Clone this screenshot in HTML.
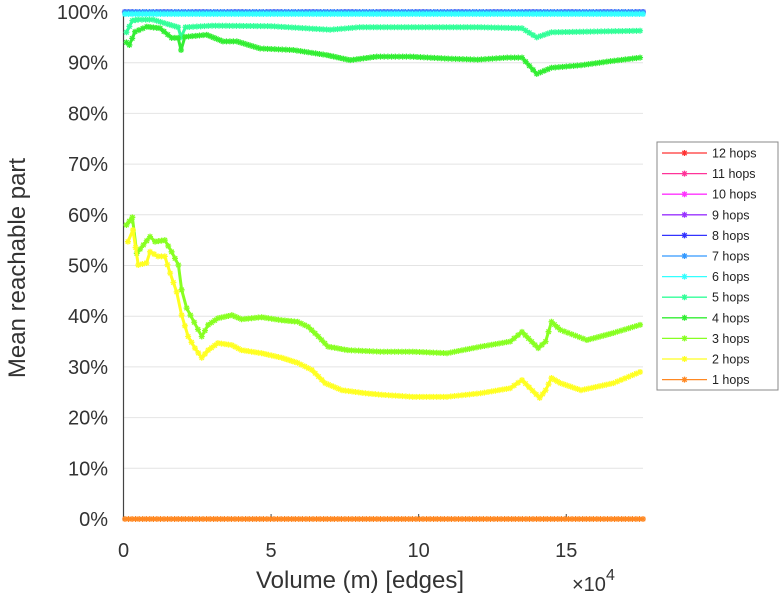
<!DOCTYPE html>
<html><head><meta charset="utf-8"><style>
body{margin:0;background:#fff;width:781px;height:600px;overflow:hidden;font-family:"Liberation Sans",sans-serif}
svg text{font-family:"Liberation Sans",sans-serif}
</style></head><body>
<svg id="chart" width="781" height="600" xmlns="http://www.w3.org/2000/svg"></svg>
<script>
const yTicks=[0,10,20,30,40,50,60,70,80,90,100];
const yTickLabels=["0%","10%","20%","30%","40%","50%","60%","70%","80%","90%","100%"];
const xTicks=[0,5,10,15];
const xTickLabels=["0","5","10","15"];
const seriesNames=["12 hops","11 hops","10 hops","9 hops","8 hops","7 hops","6 hops","5 hops","4 hops","3 hops","2 hops","1 hops"];
const seriesColors=["#ff3333","#ff3399","#ff33ff","#9933ff","#3333ff","#3399ff","#33ffff","#33ff99","#33ee33","#88ff22","#ffff22","#ff8822"];
const flatX=[0.05,17.6];
const hop12=[100,100],hop11=[100,100],hop10=[100,100],hop9=[100,100],hop8=[100,100],hop7=[100,100],hop6=[99.6,99.6];
const hop5X=[0.1,0.3,0.5,1,1.5,1.85,1.95,2.1,3,5,7,8,10,12,13.5,14.0,14.5,17.5];
const hop5=[96,98.3,98.5,98.5,97.6,97,95,97,97.3,97.2,96.5,97,97,97,96.8,95,96,96.3];
const hop4X=[0.1,0.2,0.39,0.79,1.24,1.63,1.85,1.95,2.08,2.82,3.37,3.84,4.63,5.75,6.89,7.68,8.58,9.71,11,12,13,13.5,14,14.5,15.5,16.5,17.5];
const hop4=[94,93.5,96.1,97.1,96.8,94.9,94.9,92.5,95.1,95.5,94.2,94.2,92.8,92.5,91.5,90.5,91.2,91.2,90.8,90.6,91,91,87.8,89,89.5,90.3,91];
const hop3X=[0.1,0.3,0.45,0.9,1.07,1.4,1.63,1.86,1.97,2.14,2.65,2.87,3.2,3.67,4.0,4.68,5.36,5.9,6.26,6.6,6.93,7.6,8.7,9.8,10.96,12.1,13.1,13.5,14.05,14.3,14.5,14.8,15.7,16.6,17.5];
const hop3=[58,59.5,52.4,55.7,54.7,55,52.7,50.1,45.2,41.6,36,38.3,39.6,40.2,39.4,39.8,39.2,38.9,37.9,36,34,33.3,33,33,32.7,34,35,36.9,33.7,35,38.9,37.3,35.3,36.7,38.3];
const hop2X=[0.15,0.32,0.5,0.78,0.9,1.17,1.4,1.58,1.8,1.97,2.19,2.42,2.65,2.87,3.2,3.67,4.0,4.68,5.36,5.9,6.38,6.83,7.4,8.2,8.75,9.8,10.96,12.1,13.1,13.5,14.1,14.3,14.5,14.8,15.5,16.6,17.5];
const hop2=[54.7,57,50.1,50.5,52.7,51.8,51.8,48.5,44.8,40.2,36,33.7,31.8,33.3,34.7,34.3,33.3,32.7,31.8,30.8,29.4,26.8,25.4,24.8,24.5,24.1,24.1,24.8,25.8,27.4,23.9,25.4,27.8,26.8,25.4,26.8,29];
const hop1=[0,0];
const seriesX=[flatX,flatX,flatX,flatX,flatX,flatX,flatX,hop5X,hop4X,hop3X,hop2X,flatX];
const seriesY=[hop12,hop11,hop10,hop9,hop8,hop7,hop6,hop5,hop4,hop3,hop2,hop1];

const NS="http://www.w3.org/2000/svg";
const svg=document.getElementById('chart');
const X0=123.5,X1=643,XMAX=17.6,Y0=519,Y1=12;
const sx=v=>X0+(X1-X0)*v/XMAX;
const sy=v=>Y0-(Y0-Y1)*v/100;
function mk(t,a,p){const e=document.createElementNS(NS,t);for(const k in a)e.setAttribute(k,a[k]);(p||svg).appendChild(e);return e;}

yTicks.forEach((t,i)=>{
  const g=mk('line',{x1:X0,x2:X1,y1:sy(t),y2:sy(t),stroke:'#e4e4e4','stroke-width':1});
  
  
  const tx=mk('text',{x:108,y:sy(t)+7,'text-anchor':'end','font-size':20,fill:'#333'});
  tx.textContent=yTickLabels[i];
  
  
});
xTicks.forEach((t,i)=>{
  const tk=mk('line',{x1:sx(t),x2:sx(t),y1:Y0,y2:Y0-5,stroke:'#444'});
  
  
  const tx=mk('text',{x:sx(t),y:557,'text-anchor':'middle','font-size':20,fill:'#333'});
  tx.textContent=xTickLabels[i];
  
  
});
const ax=mk('line',{x1:X0,x2:X0,y1:Y1,y2:Y0+2,stroke:'#444','stroke-width':1.2});



function star(g,x,y,c){
  const p=mk('path',{d:`M${x-3},${y}h6M${x},${y-3}v6M${x-2.2},${y-2.2}l4.4,4.4M${x-2.2},${y+2.2}l4.4,-4.4`,stroke:c,'stroke-width':1.3},g);
  
  
}
for(let s=0;s<seriesNames.length;s++){
  const g=mk('g',{});
  
  
  const xs=seriesX[s],ys=seriesY[s];
  const pts=xs.map((x,i)=>sx(x)+','+sy(ys[i])).join(' ');
  const pl=mk('polyline',{points:pts,fill:'none',stroke:seriesColors[s],'stroke-width':3,'stroke-linejoin':'round'},g);
  
  
  for(let i=0;i<xs.length-1;i++){
    const n=Math.max(1,Math.round((xs[i+1]-xs[i])/0.12));
    for(let k=0;k<n;k++){const f=k/n;star(g,sx(xs[i]+(xs[i+1]-xs[i])*f),sy(ys[i]+(ys[i+1]-ys[i])*f),seriesColors[s]);}
  }
  star(g,sx(xs[xs.length-1]),sy(ys[ys.length-1]),seriesColors[s]);
}

const lg=mk('g',{});


mk('rect',{x:657,y:142,width:121,height:248,fill:'#fff',stroke:'#888'},lg);
seriesNames.forEach((n,i)=>{
  const y=153+i*20.6;
  const e=mk('g',{},lg);
  
  
  mk('line',{x1:662,x2:707,y1:y,y2:y,stroke:seriesColors[i],'stroke-width':1.3},e);
  star(e,684.5,y,seriesColors[i]);
  const t=mk('text',{x:712,y:y+4.5,'font-size':12.5,fill:'#222'},e);
  t.textContent=n;
});

const xt=mk('text',{x:360,y:588,'text-anchor':'middle','font-size':24,fill:'#333'});
xt.textContent='Volume (m) [edges]';


const ex=mk('text',{x:572,y:591,'font-size':20,fill:'#333'});
ex.innerHTML='×10<tspan dy="-11" font-size="16">4</tspan>';


const yt=mk('text',{x:0,y:0,'text-anchor':'middle','font-size':24,fill:'#333',transform:'translate(25,268) rotate(-90)'});
yt.textContent='Mean reachable part';


</script>
</body></html>
